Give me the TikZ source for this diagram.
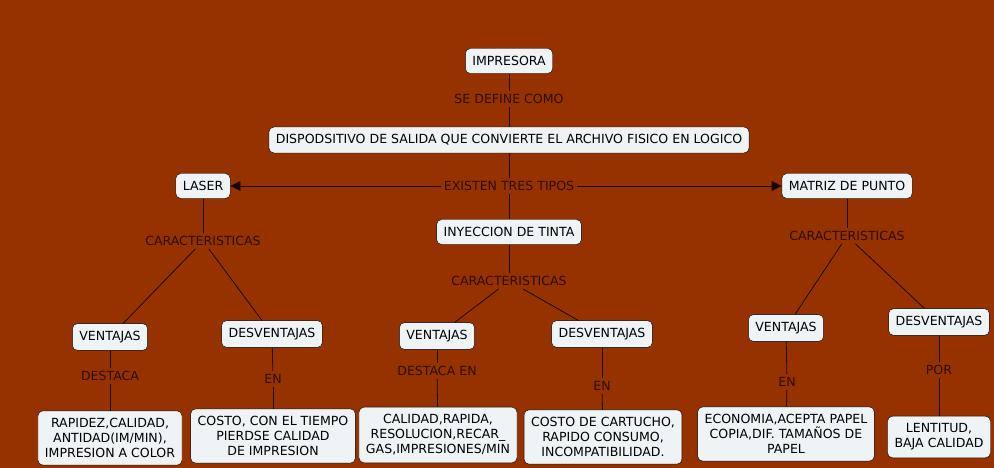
\documentclass[tikz,border=0pt]{standalone}
\usepackage{fontspec}
\setmainfont{DejaVu Sans}
\usepackage{tikz}
\usetikzlibrary{arrows.meta}
\definecolor{fondo}{RGB}{150,50,0}
\definecolor{caja}{RGB}{238,243,246}
\definecolor{textoenlace}{RGB}{45,12,0}
\tikzset{
        concepto/.style={draw=black, fill=caja, rounded corners=5bp, inner xsep=7bp, inner ysep=7.5bp,
            minimum height=25bp, align=center, font=\fontsize{12.6}{15}\selectfont},
        frase/.style={text=textoenlace, inner sep=3bp, font=\fontsize{12.6}{15}\selectfont},
        enlace/.style={draw=black!85!fondo, line width=0.8bp},
        flecha/.style={enlace, -{Triangle[length=10bp,width=10bp]}},
    }
\begin{document}
\begin{tikzpicture}[x=1bp, y=-1bp]
                \fill[fondo] (0,0) rectangle (994,468);
                \useasboundingbox (0,0) rectangle (994,468);
                % nivel superior
                \node[concepto] (impresora) at (509,61) {IMPRESORA};
                \node[frase] (define) at (509,99) {SE DEFINE COMO};
                \node[concepto] (dispositivo) at (509,140) {DISPODSITIVO DE SALIDA QUE CONVIERTE EL ARCHIVO FISICO EN LOGICO};
                \node[frase] (tipos) at (509,186) {EXISTEN TRES TIPOS};
                \node[concepto] (laser) at (203,186) {LASER};
                \node[concepto] (matriz) at (847,186) {MATRIZ DE PUNTO};
                \node[concepto] (tinta) at (509,232) {INYECCION DE TINTA};
                % caracteristicas
                \node[frase] (carLaser) at (203,241) {CARACTERISTICAS};
                \node[frase] (carTinta) at (509,281) {CARACTERISTICAS};
                \node[frase] (carMatriz) at (847,236) {CARACTERISTICAS};
                \node[concepto] (ventLaser) at (110,337) {VENTAJAS};
                \node[concepto] (desvLaser) at (272,334) {DESVENTAJAS};
                \node[concepto] (ventTinta) at (437,336) {VENTAJAS};
                \node[concepto] (desvTinta) at (602,334) {DESVENTAJAS};
                \node[concepto] (ventMatriz) at (786,328) {VENTAJAS};
                \node[concepto] (desvMatriz) at (939,322) {DESVENTAJAS};
                \node[frase] (destaca) at (110,376) {DESTACA};
                \node[frase] (enLaser) at (273,379) {EN};
                \node[frase] (destacaEn) at (437,371) {DESTACA EN};
                \node[frase] (enTinta) at (602,386) {EN};
                \node[frase] (enMatriz) at (787,382) {EN};
                \node[frase] (por) at (939,370) {POR};
                % hojas
                \node[concepto] (hojaVL) at (110,438) {RAPIDEZ,CALIDAD,\\ANTIDAD(IM/MIN),\\IMPRESION A COLOR};
                \node[concepto] (hojaDL) at (273,436) {COSTO, CON EL TIEMPO\\PIERDSE CALIDAD\\DE IMPRESION};
                \node[concepto] (hojaVT) at (438,435) {CALIDAD,RAPIDA,\\RESOLUCION,RECAR\_\\GAS,IMPRESIONES/MIN};
                \node[concepto] (hojaDT) at (603,437) {COSTO DE CARTUCHO,\\RAPIDO CONSUMO,\\INCOMPATIBILIDAD.};
                \node[concepto] (hojaVM) at (786,434) {ECONOMIA,ACEPTA PAPEL\\COPIA,DIF. TAMA\~NOS DE\\PAPEL};
                \node[concepto] (hojaDM) at (939,437) {LENTITUD,\\BAJA CALIDAD};
                % enlaces
                \foreach \a/\b in {impresora/define, define/dispositivo, dispositivo/tipos, tipos/tinta,
                    laser/carLaser, carLaser/ventLaser, carLaser/desvLaser,
                    tinta/carTinta, carTinta/ventTinta, carTinta/desvTinta,
                    matriz/carMatriz, carMatriz/ventMatriz, carMatriz/desvMatriz,
                    ventLaser/destaca, destaca/hojaVL, desvLaser/enLaser, enLaser/hojaDL,
                    ventTinta/destacaEn, destacaEn/hojaVT, desvTinta/enTinta, enTinta/hojaDT,
                    ventMatriz/enMatriz, enMatriz/hojaVM, desvMatriz/por, por/hojaDM}
                    \draw[enlace] (\a) -- (\b);
                \draw[flecha] (tipos) -- (laser);
                \draw[flecha] (tipos) -- (matriz);
\end{tikzpicture}
\end{document}
